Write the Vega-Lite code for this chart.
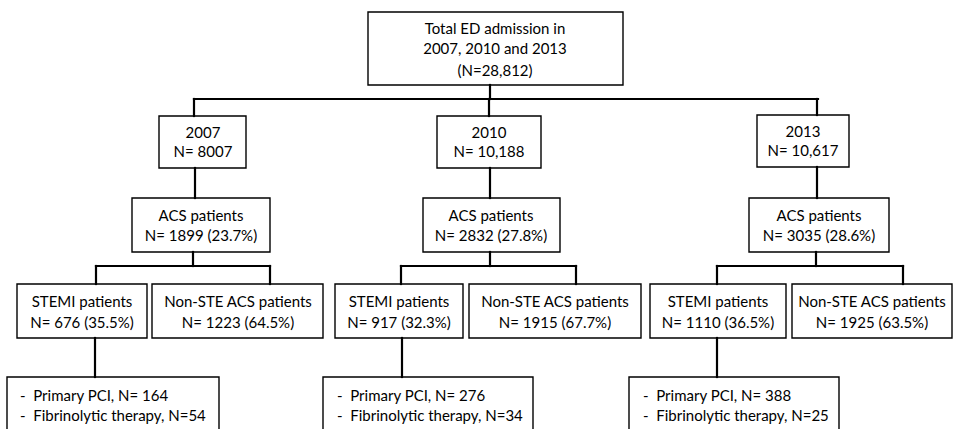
{
  "$schema": "https://vega.github.io/schema/vega-lite/v6.json",
  "width": 954,
  "height": 429,
  "autosize": "none",
  "padding": 0,
  "background": "white",
  "config": {"view": {"stroke": null}},
  "datasets": {
    "boxes": [
      {"id": "total", "x": 368, "x2": 623, "y": 12, "y2": 85},
      {"id": "y2007", "x": 159, "x2": 246, "y": 116, "y2": 168},
      {"id": "y2010", "x": 437, "x2": 541, "y": 116, "y2": 168},
      {"id": "y2013", "x": 757, "x2": 849, "y": 115, "y2": 167},
      {"id": "acs2007", "x": 132, "x2": 270, "y": 198, "y2": 252},
      {"id": "acs2010", "x": 423, "x2": 560, "y": 198, "y2": 252},
      {"id": "acs2013", "x": 749, "x2": 889, "y": 198, "y2": 252},
      {"id": "stemi2007", "x": 17, "x2": 147, "y": 284, "y2": 338},
      {"id": "nste2007", "x": 152, "x2": 323, "y": 284, "y2": 338},
      {"id": "stemi2010", "x": 335, "x2": 463, "y": 284, "y2": 338},
      {"id": "nste2010", "x": 469, "x2": 641, "y": 284, "y2": 338},
      {"id": "stemi2013", "x": 650, "x2": 786, "y": 284, "y2": 338},
      {"id": "nste2013", "x": 792, "x2": 952, "y": 284, "y2": 338},
      {"id": "tx2007", "x": 7, "x2": 219, "y": 377, "y2": 445},
      {"id": "tx2010", "x": 323, "x2": 533, "y": 377, "y2": 445},
      {"id": "tx2013", "x": 629, "x2": 839, "y": 377, "y2": 445}
    ],
    "links": [
      {"x": 490, "x2": 490, "y": 85, "y2": 99},
      {"x": 194, "x2": 818, "y": 99, "y2": 99},
      {"x": 194, "x2": 194, "y": 99, "y2": 116},
      {"x": 489, "x2": 489, "y": 99, "y2": 116},
      {"x": 817, "x2": 817, "y": 99, "y2": 115},
      {"x": 195, "x2": 195, "y": 168, "y2": 198},
      {"x": 490, "x2": 490, "y": 168, "y2": 198},
      {"x": 817, "x2": 817, "y": 167, "y2": 198},
      {"x": 193, "x2": 193, "y": 252, "y2": 266},
      {"x": 490, "x2": 490, "y": 252, "y2": 266},
      {"x": 816, "x2": 816, "y": 252, "y2": 266},
      {"x": 96, "x2": 270, "y": 266, "y2": 266},
      {"x": 401, "x2": 576, "y": 266, "y2": 266},
      {"x": 717, "x2": 903, "y": 266, "y2": 266},
      {"x": 96, "x2": 96, "y": 266, "y2": 284},
      {"x": 270, "x2": 270, "y": 266, "y2": 284},
      {"x": 401, "x2": 401, "y": 266, "y2": 284},
      {"x": 576, "x2": 576, "y": 266, "y2": 284},
      {"x": 717, "x2": 717, "y": 266, "y2": 284},
      {"x": 903, "x2": 903, "y": 266, "y2": 284},
      {"x": 95, "x2": 95, "y": 338, "y2": 377},
      {"x": 402, "x2": 402, "y": 338, "y2": 377},
      {"x": 717, "x2": 717, "y": 338, "y2": 377}
    ],
    "labels": [
      {"x": 495, "y": 29, "text": "Total ED admission in"},
      {"x": 495, "y": 49, "text": "2007, 2010 and 2013"},
      {"x": 495, "y": 71, "text": "(N=28,812)"},
      {"x": 203, "y": 133, "text": "2007"},
      {"x": 203, "y": 152, "text": "N= 8007"},
      {"x": 489, "y": 133, "text": "2010"},
      {"x": 489, "y": 152, "text": "N= 10,188"},
      {"x": 803, "y": 132, "text": "2013"},
      {"x": 803, "y": 151, "text": "N= 10,617"},
      {"x": 201, "y": 216, "text": "ACS patients"},
      {"x": 201, "y": 236, "text": "N= 1899 (23.7%)"},
      {"x": 491, "y": 216, "text": "ACS patients"},
      {"x": 491, "y": 236, "text": "N= 2832 (27.8%)"},
      {"x": 819, "y": 216, "text": "ACS patients"},
      {"x": 819, "y": 236, "text": "N= 3035 (28.6%)"},
      {"x": 82, "y": 302, "text": "STEMI patients"},
      {"x": 82, "y": 323, "text": "N= 676 (35.5%)"},
      {"x": 238, "y": 302, "text": "Non-STE ACS patients"},
      {"x": 238, "y": 323, "text": "N= 1223 (64.5%)"},
      {"x": 399, "y": 302, "text": "STEMI patients"},
      {"x": 399, "y": 323, "text": "N= 917 (32.3%)"},
      {"x": 555, "y": 302, "text": "Non-STE ACS patients"},
      {"x": 555, "y": 323, "text": "N= 1915 (67.7%)"},
      {"x": 718, "y": 302, "text": "STEMI patients"},
      {"x": 718, "y": 323, "text": "N= 1110 (36.5%)"},
      {"x": 872, "y": 302, "text": "Non-STE ACS patients"},
      {"x": 872, "y": 323, "text": "N= 1925 (63.5%)"}
    ],
    "items": [
      {"x": 20, "y": 396, "text": "-\u00a0 Primary PCI, N= 164"},
      {"x": 20, "y": 416, "text": "-\u00a0 Fibrinolytic therapy, N=54"},
      {"x": 337, "y": 396, "text": "-\u00a0 Primary PCI, N= 276"},
      {"x": 337, "y": 416, "text": "-\u00a0 Fibrinolytic therapy, N=34"},
      {"x": 643, "y": 396, "text": "-\u00a0 Primary PCI, N= 388"},
      {"x": 643, "y": 416, "text": "-\u00a0 Fibrinolytic therapy, N=25"}
    ]
  },
  "layer": [
    {
      "data": {"name": "boxes"},
      "mark": {"type": "rect", "fill": "white", "stroke": "black", "strokeWidth": 1.4, "clip": true},
      "encoding": {
        "x": {"field": "x", "type": "quantitative", "scale": {"domain": [0, 954], "nice": false, "zero": false}, "axis": null},
        "x2": {"field": "x2"},
        "y": {"field": "y", "type": "quantitative", "scale": {"domain": [0, 429], "nice": false, "zero": false, "reverse": true}, "axis": null},
        "y2": {"field": "y2"}
      }
    },
    {
      "data": {"name": "links"},
      "mark": {"type": "rule", "stroke": "black", "strokeWidth": 2.2, "strokeCap": "square"},
      "encoding": {
        "x": {"field": "x", "type": "quantitative"},
        "x2": {"field": "x2"},
        "y": {"field": "y", "type": "quantitative"},
        "y2": {"field": "y2"}
      }
    },
    {
      "data": {"name": "labels"},
      "mark": {"type": "text", "font": "Lato", "fontSize": 15, "align": "center", "baseline": "middle", "color": "black"},
      "encoding": {
        "x": {"field": "x", "type": "quantitative"},
        "y": {"field": "y", "type": "quantitative"},
        "text": {"field": "text"}
      }
    },
    {
      "data": {"name": "items"},
      "mark": {"type": "text", "font": "Lato", "fontSize": 15, "align": "left", "baseline": "middle", "color": "black"},
      "encoding": {
        "x": {"field": "x", "type": "quantitative"},
        "y": {"field": "y", "type": "quantitative"},
        "text": {"field": "text"}
      }
    }
  ]
}
